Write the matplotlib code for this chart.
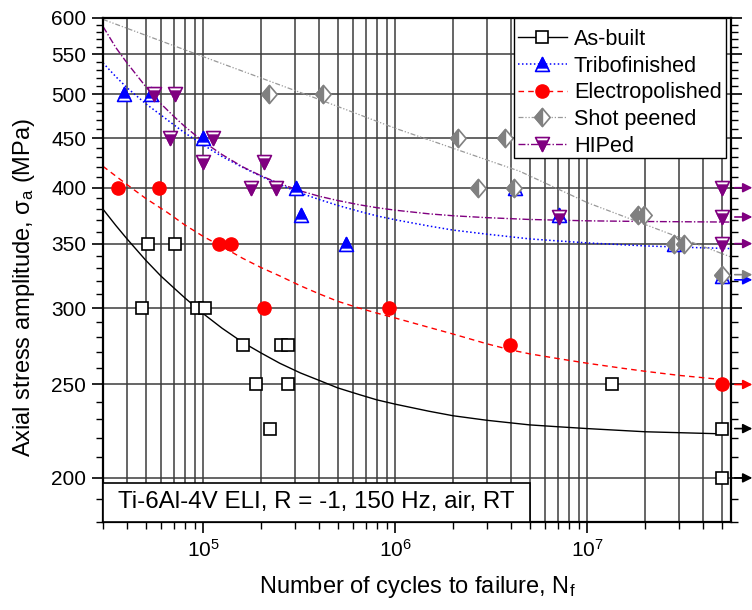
import matplotlib
matplotlib.use("Agg")
import matplotlib.pyplot as plt
from matplotlib.patches import Rectangle
from matplotlib.path import Path
from matplotlib.ticker import FixedLocator, NullFormatter, LogLocator

plt.rcParams["font.family"] = ["Liberation Sans", "DejaVu Sans"]
plt.rcParams["mathtext.fontset"] = "custom"
plt.rcParams["mathtext.rm"] = "Liberation Sans"
plt.rcParams["mathtext.it"] = "Liberation Sans:italic"
plt.rcParams["mathtext.default"] = "regular"

# measured points (cycles, MPa)
asbuilt_N = [51700, 71300, 47700, 92300, 102000, 161000, 254000, 275000, 189000, 276000, 223000, 13.4e6, 5e7, 5e7]
asbuilt_S = [350, 350, 300, 300, 300, 275, 275, 275, 250, 250, 225, 250, 225, 200]

tribo_N = [38500, 53500, 100000, 304000, 323000, 553000, 4.2e6, 7.08e6, 2.84e7, 5e7]
tribo_S = [500, 500, 450, 400, 375, 350, 400, 375, 350, 324]

electro_N = [35800, 59000, 121000, 139000, 208000, 931000, 3.95e6, 5e7]
electro_S = [400, 400, 350, 350, 300, 300, 275, 250]

shot_N = [219000, 420000, 2.11e6, 3.72e6, 2.7e6, 4.15e6, 18.3e6, 19.8e6, 2.84e7, 3.2e7, 5e7]
shot_S = [500, 500, 450, 450, 400, 400, 375, 375, 350, 350, 325]

hip_N = [55000, 71400, 67300, 112000, 99000, 208000, 177000, 239000, 7.08e6, 5e7, 5e7, 5e7]
hip_S = [500, 500, 450, 450, 425, 425, 400, 400, 373, 400, 373, 350]

# fitted curves
asbuilt_fit_N = [3e4, 3.5e4, 4e4, 5e4, 6e4, 7e4, 8e4, 1e5, 1.25e5, 1.6e5, 2e5, 2.5e5, 3.2e5, 4e5, 5e5,
                 6.5e5, 8e5, 1e6, 1.5e6, 2e6, 3e6, 5e6, 7e6, 1e7, 2e7, 5e7]
asbuilt_fit_S = [380, 365.5, 354, 336.5, 324, 315, 307.5, 296, 286, 276.5, 269.5, 263, 257, 252.5, 248,
                 244, 241, 238.5, 234.5, 232, 229.5, 227, 226, 225, 223.3, 222.2]

tribo_fit_N = [3e4, 3.5e4, 4e4, 5e4, 6e4, 7e4, 8e4, 1e5, 1.25e5, 1.6e5, 2e5, 2.5e5, 3.2e5, 4e5, 5e5,
               6.5e5, 8e5, 1e6, 1.5e6, 2e6, 3e6, 5e6, 7e6, 1e7, 2e7, 3.5e7, 5.6e7]
tribo_fit_S = [539, 521.5, 508, 489, 476, 465, 456, 443, 431, 420, 411, 403, 395, 389, 383.5,
               378, 374, 370.5, 365, 361.5, 358, 354, 352.3, 350.6, 348.1, 346.8, 345.9]

electro_fit_N = [3e4, 4e4, 5e4, 6.5e4, 8e4, 1e5, 1.3e5, 1.6e5, 2e5, 2.5e5, 3.2e5, 4e5, 5e5, 6.5e5,
                 8e5, 1e6, 1.5e6, 2e6, 3e6, 4e6, 5e6, 7e6, 1e7, 1.5e7, 2e7, 3e7, 5e7]
electro_fit_S = [421, 403, 390, 377, 366, 356, 346, 338, 330.5, 324, 316.5, 310.5, 305, 300,
                 296.5, 293, 286.5, 282, 275.5, 271.5, 269, 266, 263, 260, 258, 255.5, 253]

shot_fit_N = [3e4, 1e5, 4e5, 1e6, 4.45e6, 1e7, 5.6e7]
shot_fit_S = [598, 547, 494, 461, 416, 386, 339]

hip_fit_N = [3e4, 3.5e4, 4e4, 5e4, 6e4, 7e4, 8e4, 1e5, 1.25e5, 1.6e5, 2e5, 2.5e5, 3.2e5, 4e5, 5e5,
             6.5e5, 8e5, 1e6, 1.5e6, 2e6, 3e6, 5e6, 1e7, 2e7, 5.6e7]
hip_fit_S = [588, 559, 539, 509.5, 489, 474.5, 463, 446.5, 433, 420.5, 411.5, 404, 397, 392, 388,
             384, 381.4, 379.1, 375.8, 374.1, 372.4, 370.8, 369.6, 369, 368.5]

# runouts (arrow to the right)
runouts = [
    (225, "black"), (200, "black"),
    (321, "blue"),
    (250, "red"),
    (325, "#808080"),
    (400, "#800080"), (373, "#800080"), (350, "#800080"),
]

# half-filled marker shapes
TRI_UP = Path([(0, 1), (-1, -1), (1, -1), (0, 1)], closed=True)
TRI_UP_TOP = Path([(0, 1), (-0.75, -0.5), (0.75, -0.5), (0, 1), (-1, -1), (1, -1)],
                  [Path.MOVETO, Path.LINETO, Path.LINETO, Path.CLOSEPOLY, Path.MOVETO, Path.MOVETO])
TRI_DN = Path([(0, -1), (-1, 1), (1, 1), (0, -1)], closed=True)
TRI_DN_BOT = Path([(0, -1), (-0.75, 0.5), (0.75, 0.5), (0, -1), (-1, 1), (1, 1)],
                  [Path.MOVETO, Path.LINETO, Path.LINETO, Path.CLOSEPOLY, Path.MOVETO, Path.MOVETO])
DIAM = Path([(0, 1), (0.85, 0), (0, -1), (-0.85, 0), (0, 1)], closed=True)
DIAM_LEFT = Path([(0, 1), (-0.85, 0), (0, -1), (0, 1), (0.85, 0)],
                 [Path.MOVETO, Path.LINETO, Path.LINETO, Path.CLOSEPOLY, Path.MOVETO])


def main():
    fig = plt.figure(figsize=(7.52, 6.10), dpi=100)
    ax = fig.add_axes([103 / 752, 1 - 522 / 610, 628 / 752, 504 / 610])
    ax.set_xscale("log")
    ax.set_yscale("log")
    ax.set_xlim(3e4, 5.6e7)
    ax.set_ylim(180, 600)

    ls_blue = (0, (1, 1.6))
    ls_red = (0, (4, 3))
    ls_gray = (0, (4, 1.5, 1, 1.5, 1, 1.5))
    ls_purple = (0, (5, 1.5, 1, 1.5))

    # fits
    ax.plot(asbuilt_fit_N, asbuilt_fit_S, color="black", lw=1, zorder=2)
    ax.plot(tribo_fit_N, tribo_fit_S, color="blue", lw=1.1, ls=ls_blue, zorder=2)
    ax.plot(electro_fit_N, electro_fit_S, color="red", lw=1, ls=ls_red, zorder=2)
    ax.plot(shot_fit_N, shot_fit_S, color="#999999", lw=0.9, ls=ls_gray, zorder=2)
    ax.plot(hip_fit_N, hip_fit_S, color="#800080", lw=1, ls=ls_purple, zorder=2)

    # points
    sq = dict(marker="s", ms=8, mfc="white", mec="black", mew=1.2)
    tri_a = dict(marker=TRI_UP, ms=10, mfc="white", mec="blue", mew=1.2)
    tri_b = dict(marker=TRI_UP_TOP, ms=10, mfc="blue", mec="blue", mew=1.0)
    circ = dict(marker="o", ms=9.5, mfc="red", mec="red")
    dia_a = dict(marker=DIAM, ms=13, mfc="white", mec="#808080", mew=1.2)
    dia_b = dict(marker=DIAM_LEFT, ms=13, mfc="#808080", mec="#808080", mew=1.0)
    tdn_a = dict(marker=TRI_DN, ms=10, mfc="white", mec="#800080", mew=1.2)
    tdn_b = dict(marker=TRI_DN_BOT, ms=10, mfc="#800080", mec="#800080", mew=1.0)

    ax.plot(asbuilt_N, asbuilt_S, ls="none", zorder=5, **sq)
    ax.plot(tribo_N, tribo_S, ls="none", zorder=5, **tri_a)
    ax.plot(tribo_N, tribo_S, ls="none", zorder=5, **tri_b)
    ax.plot(electro_N, electro_S, ls="none", zorder=5, **circ)
    ax.plot(shot_N, shot_S, ls="none", zorder=5, **dia_a)
    ax.plot(shot_N, shot_S, ls="none", zorder=5, **dia_b)
    ax.plot(hip_N, hip_S, ls="none", zorder=5, **tdn_a)
    ax.plot(hip_N, hip_S, ls="none", zorder=5, **tdn_b)

    # legend proxies
    h1, = ax.plot([], [], color="black", lw=1, **sq)
    h2a, = ax.plot([], [], color="blue", lw=1.1, ls=ls_blue, **tri_a)
    h2b, = ax.plot([], [], ls="none", **tri_b)
    h3, = ax.plot([], [], color="red", lw=1, ls=ls_red, **circ)
    h4a, = ax.plot([], [], color="#999999", lw=0.9, ls=ls_gray, **dia_a)
    h4b, = ax.plot([], [], ls="none", **dia_b)
    h5a, = ax.plot([], [], color="#800080", lw=1, ls=ls_purple, **tdn_a)
    h5b, = ax.plot([], [], ls="none", **tdn_b)

    # legend frame drawn separately so the rows can sit a bit lower
    ax.add_patch(Rectangle((0.6545, 0.7222), 0.992 - 0.6545, 1 - 0.7222, transform=ax.transAxes,
                           facecolor="white", edgecolor="black", lw=1, zorder=9))
    leg = ax.legend([h1, (h2a, h2b), h3, (h4a, h4b), (h5a, h5b)],
                    ["As-built", "Tribofinished", "Electropolished", "Shot peened", "HIPed"],
                    loc="upper right", bbox_to_anchor=(0.992, 0.9867), borderaxespad=0,
                    fontsize=15.6, handlelength=2.3, handletextpad=0.3, labelspacing=0.26,
                    borderpad=0.2, frameon=False)
    leg.set_zorder(10)

    # runout arrows
    for s, c in runouts:
        ax.annotate("", xy=(1.034, s), xytext=(1.006, s), xycoords=ax.get_yaxis_transform(),
                    arrowprops=dict(arrowstyle="-|>", color=c, lw=1.2, mutation_scale=14,
                                    shrinkA=0, shrinkB=0),
                    annotation_clip=False)

    # grid and ticks
    ax.yaxis.set_major_locator(FixedLocator(list(range(200, 601, 50))))
    ax.yaxis.set_minor_locator(FixedLocator([v for v in range(180, 601, 10) if v % 50 != 0]))
    ax.set_yticklabels([str(v) for v in range(200, 601, 50)])
    ax.yaxis.set_minor_formatter(NullFormatter())
    ax.xaxis.set_major_locator(LogLocator(base=10))
    ax.xaxis.set_minor_locator(LogLocator(base=10, subs=range(2, 10)))
    ax.xaxis.set_minor_formatter(NullFormatter())

    ax.set_axisbelow(True)
    ax.grid(True, which="major", color="#3c3c3c", lw=1.1)
    ax.grid(True, which="minor", axis="x", color="#3c3c3c", lw=1.1)

    ax.tick_params(axis="both", which="major", labelsize=15, direction="out", length=8, width=1.2, pad=4)
    ax.tick_params(axis="both", which="minor", direction="out", length=5, width=1)
    ax.tick_params(axis="y", which="both", right=True)
    for sp in ax.spines.values():
        sp.set_linewidth(1.6)

    ax.set_xlabel("Number of cycles to failure, N$_f$", fontsize=17, labelpad=10)
    ax.set_ylabel("Axial stress amplitude, σ$_a$ (MPa)", fontsize=17)
    ax.yaxis.set_label_coords(-0.105, 0.466)

    # condition box
    ax.add_patch(Rectangle((0, 0), 0.68, 0.0774, transform=ax.transAxes, facecolor="white",
                           edgecolor="black", lw=1.2, zorder=3))
    ax.text(0.024, 0.0387, "Ti-6Al-4V ELI, R = -1, 150 Hz, air, RT", transform=ax.transAxes,
            fontsize=17.4, va="center", ha="left", zorder=4)

    fig.savefig("out.png", dpi=100)


if __name__ == "__main__":
    main()
